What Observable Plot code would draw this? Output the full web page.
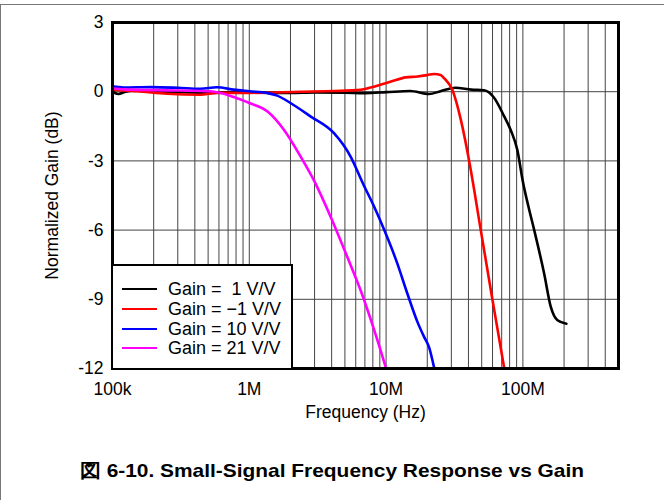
<!DOCTYPE html>
<html>
<head>
<meta charset="utf-8">
<script src="https://cdn.jsdelivr.net/npm/d3@7"></script>
<script src="https://cdn.jsdelivr.net/npm/@observablehq/plot@0.6"></script>
<style>
  html, body { margin: 0; padding: 0; background: #fff; }
  #wrap { position: relative; width: 664px; height: 500px; overflow: hidden; font-family: Arial, "Liberation Sans", sans-serif; }
  #border { position: absolute; left: 0; top: 4px; width: 680px; height: 520px; border-top: 1px solid #777; border-left: 1px solid #777; }
  #chart { position: absolute; left: 0; top: 0; }
  #legend { position: absolute; left: 111px; top: 264px; width: 178px; height: 102px; border: 2.5px solid #000; background: #fff; box-sizing: content-box; }
  .row { position: absolute; left: 0; height: 20px; width: 178px; }
  .sw { position: absolute; left: 9px; top: 9px; width: 35px; height: 0; border-top: 2.5px solid; }
  .lt { position: absolute; left: 55px; top: 0; font-size: 18px; line-height: 20px; white-space: pre; color: #000; }
  #caption { position: absolute; left: 0; width: 664px; top: 458px; text-align: center; font-weight: bold; font-size: 19px; color: #000; transform: scaleX(1.1); transform-origin: 332px 0; }
</style>
</head>
<body>
<div id="wrap">
  <div id="border"></div>
  <div id="chart"></div>
  <div id="legend"></div>
  <div id="caption">図 6-10. Small-Signal Frequency Response vs Gain</div>
</div>
<script>
// Series data (frequency in Hz, normalized gain in dB)
const seriesNames = ["Gain =  1 V/V", "Gain = \u22121 V/V", "Gain = 10 V/V", "Gain = 21 V/V"];
const seriesColors = ["#000000", "#ff0000", "#0000ff", "#ff00ff"];

const gain1Freq = [1e5, 1.1e5, 1.25e5, 1.5e5, 2e5, 3e5, 5e5, 7e5, 1e6, 1.5e6, 2e6, 3e6, 5e6, 7e6, 1e7, 1.5e7, 2.06e7, 2.5e7, 3.2e7, 4.2e7, 5.2e7, 6.1e7, 7.3e7, 8.2e7, 9.1e7, 1.0e8, 1.1e8, 1.21e8, 1.43e8, 1.6e8, 1.79e8, 2.08e8];
const gain1dB   = [0, -0.1, 0, 0.05, 0.02, -0.02, -0.05, -0.03, -0.03, -0.05, -0.05, -0.03, -0.04, -0.06, -0.02, 0.03, -0.1, 0.02, 0.17, 0.09, 0.06, -0.23, -1.07, -1.7, -2.52, -3.9, -5.0, -6.0, -7.88, -9.33, -9.91, -10.06];

const gainM1Freq = [1e5, 1.2e5, 1.5e5, 2.5e5, 4.4e5, 5.8e5, 1e6, 2.37e6, 4.2e6, 6.5e6, 7.7e6, 9.1e6, 1.1e7, 1.39e7, 1.7e7, 2.0e7, 2.24e7, 2.5e7, 2.65e7, 3.05e7, 3.52e7, 4.16e7, 4.92e7, 6.0e7, 7.28e7];
const gainM1dB   = [0.1, 0.05, 0.02, -0.09, -0.13, -0.05, -0.05, 0, 0.03, 0.08, 0.18, 0.3, 0.45, 0.62, 0.66, 0.72, 0.77, 0.72, 0.59, 0.08, -1.22, -3.39, -6.0, -9.04, -11.94];

const gain10Freq = [1e5, 1.2e5, 1.9e5, 3e5, 4.4e5, 5.8e5, 7.7e5, 1e6, 1.36e6, 1.6e6, 2.0e6, 2.8e6, 4.16e6, 5.5e6, 6.8e6, 8.2e6, 9.7e6, 1.2e7, 1.43e7, 1.7e7, 1.9e7, 2.06e7, 2.24e7];
const gain10dB   = [0.23, 0.18, 0.2, 0.17, 0.13, 0.19, 0.09, 0.02, -0.06, -0.17, -0.49, -1.07, -1.8, -2.81, -4.0, -5.0, -6.0, -7.4, -8.75, -10.0, -10.64, -11.07, -11.94];

const gain21Freq = [1e5, 1.2e5, 2e5, 3e5, 5.2e5, 7.7e5, 1e6, 1.36e6, 1.79e6, 2.37e6, 3.0e6, 3.93e6, 5.2e6, 6.5e6, 8.2e6, 9.93e6];
const gain21dB   = [0.15, 0.1, 0.07, 0.05, 0.02, -0.23, -0.49, -0.86, -1.65, -2.81, -3.9, -5.42, -7.16, -8.6, -10.35, -11.94];

const xTicks = [1e5, 1e6, 1e7, 1e8];
const xTickLabels = ["100k", "1M", "10M", "100M"];
const yTicks = [-12, -9, -6, -3, 0, 3];

const freqs = [gain1Freq, gainM1Freq, gain10Freq, gain21Freq];
const gains = [gain1dB, gainM1dB, gain10dB, gain21dB];
const rows = [];
freqs.forEach((fs, i) => fs.forEach((f, j) => rows.push({series: seriesNames[i], f, db: gains[i][j]})));

const gridX = [];
for (const d of [1e5, 1e6, 1e7, 1e8]) for (let k = 1; k <= 9; k++) { const v = d * k; if (v > 1e5 && v < 5e8) gridX.push(v); }

const chart = Plot.plot({
  width: 664,
  height: 430,
  marginLeft: 112,
  marginRight: 46,
  marginTop: 22,
  marginBottom: 62,
  style: { fontFamily: "Arial, 'Liberation Sans', sans-serif", fontSize: "17.5px", color: "#000", background: "transparent" },
  x: { type: "log", domain: [1e5, 5e8] },
  y: { domain: [-12, 3] },
  color: { domain: seriesNames, range: seriesColors },
  marks: [
    Plot.ruleX(gridX, { stroke: "#444", strokeWidth: 1, strokeOpacity: 1 }),
    Plot.ruleY(yTicks.filter(t => t > -12 && t < 3), { stroke: "#444", strokeWidth: 1, strokeOpacity: 1 }),
    Plot.line(rows, { x: "f", y: "db", z: "series", stroke: "series", strokeWidth: 2.6, curve: "monotone-x", clip: true }),
    Plot.frame({ stroke: "#000", strokeWidth: 3 }),
    Plot.axisX({ ticks: xTicks, tickFormat: (d) => xTickLabels[xTicks.indexOf(d)], tickSize: 0, tickPadding: 14, label: "Frequency (Hz)", labelAnchor: "center", labelOffset: 49, labelArrow: "none" }),
    Plot.axisY({ ticks: yTicks, tickFormat: (d) => String(d), tickSize: 0, tickPadding: 9, label: "Normalized Gain (dB)", labelAnchor: "center", labelOffset: 67, labelArrow: "none" })
  ]
});
document.getElementById("chart").appendChild(chart);

const legend = document.getElementById("legend");
seriesNames.forEach((name, i) => {
  const r = document.createElement("div");
  r.className = "row";
  r.style.top = (13 + i * 19.8) + "px";
  const sw = document.createElement("div");
  sw.className = "sw";
  sw.style.borderTopColor = seriesColors[i];
  const t = document.createElement("div");
  t.className = "lt";
  t.textContent = name;
  r.appendChild(sw); r.appendChild(t);
  legend.appendChild(r);
});
</script>
</body>
</html>
